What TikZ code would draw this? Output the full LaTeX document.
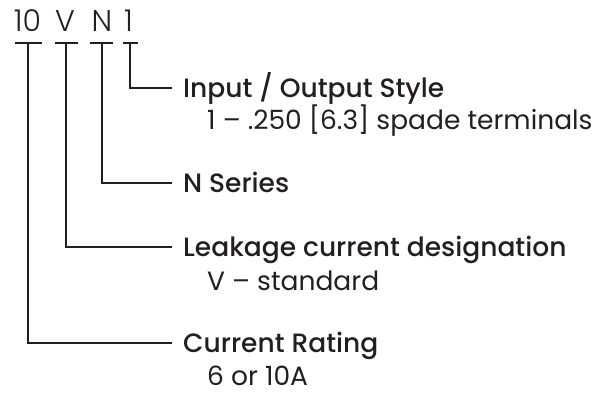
\documentclass[tikz,border=0pt]{standalone}
\usepackage{fontspec}
\setmainfont{Poppins}
\newfontfamily\medfont{Poppins Medium}
\newfontfamily\lightfont{Poppins Light}
\usepackage{tikz}
\definecolor{ink}{RGB}{35,31,32}

\begin{document}
\begin{tikzpicture}[x=1pt,y=-1pt]
\tikzset{code/.style = {font=\lightfont\fontsize{30}{34}\selectfont, inner sep=0pt, text=ink, text height=21pt, text depth=0pt}}
\tikzset{title/.style = {anchor=west, font=\medfont\fontsize{26.5}{30}\selectfont, inner sep=0pt, text=ink, text height=18.5pt, text depth=0pt}}
\tikzset{sub/.style = {anchor=west, font=\fontsize{26.5}{30}\selectfont, inner sep=0pt, text=ink, text height=18.5pt, text depth=0pt}}
\tikzset{tee/.style = {line width=2.2pt, draw=ink}}
\tikzset{leg/.style = {tee, shorten >=11pt}}

\useasboundingbox (0,0) rectangle (596,392);

% part number
\node[code] (c10) at (27.5,20.5) {10};
\node[code] (cV) at (65,20.5) {V};
\node[code] (cN) at (102,20.5) {N};
\node[code] (c1) at (128.5,20.5) {1};

% bar centres
\coordinate (b10) at (28,43);
\coordinate (bV) at (66,43);
\coordinate (bN) at (102,43);
\coordinate (b1) at (130,43);

% labels
\node[title] (ltype) at (183,88) {Input / Output Style};
\node[sub] (stype) at (207,120) {1 – .250 [6.3] spade terminals};
\node[title] (lser) at (183,183) {N Series};
\node[title] (lleak) at (183,247) {Leakage current designation};
\node[sub] (sleak) at (207,281) {V – standard};
\node[title] (lrate) at (183,343) {Current Rating};
\node[sub] (srate) at (207,376) {6 or 10A};

% bars
\draw[tee] ([xshift=-13pt]b10) -- ([xshift=14pt]b10);
\draw[tee] ([xshift=-11pt]bV) -- ([xshift=12pt]bV);
\draw[tee] ([xshift=-12pt]bN) -- ([xshift=11pt]bN);
\draw[tee] ([xshift=-7pt]b1) -- ([xshift=8pt]b1);

% legs
\draw[leg] (b1) |- (ltype.west);
\draw[leg] (bN) |- (lser.west);
\draw[leg] (bV) |- (lleak.west);
\draw[leg] (b10) |- (lrate.west);

\end{tikzpicture}
\end{document}
